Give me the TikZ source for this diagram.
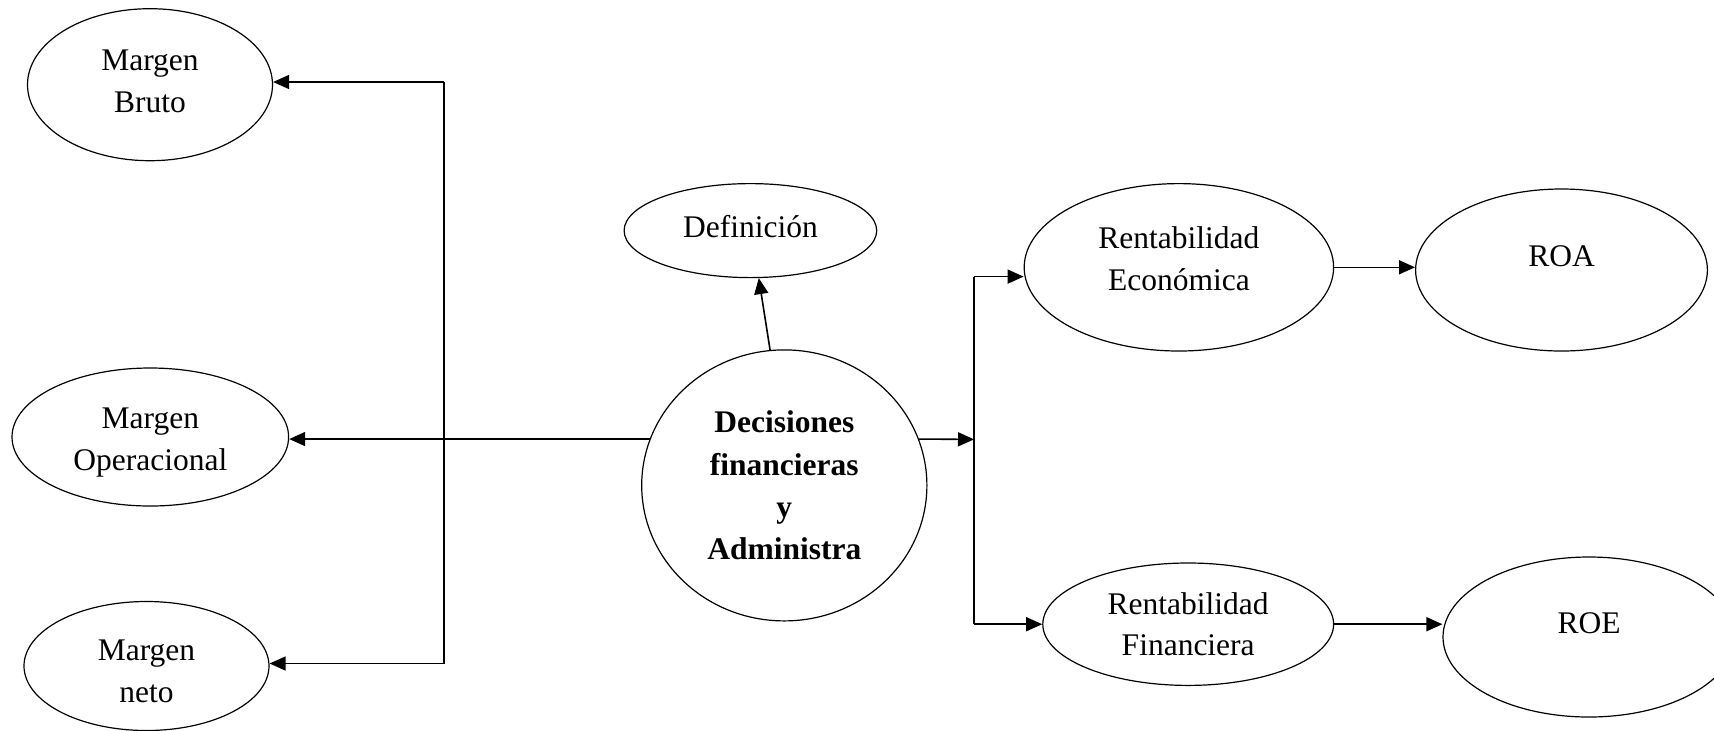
\documentclass[tikz,border=0pt]{standalone}
\usepackage{fontspec}
\setmainfont{Liberation Serif}
\usetikzlibrary{shapes.geometric,arrows.meta}
\tikzset{
  oval/.style={ellipse, draw, line width=0.6pt, inner sep=0pt, align=center,
    font=\fontsize{15.75pt}{20.8pt}\selectfont},
  arr/.style={line width=0.8pt, -{Triangle[length=8pt,width=7pt]}},
  link/.style={line width=0.8pt}
}
\begin{document}
\begin{tikzpicture}[x=0.5pt,y=-0.5pt]
\useasboundingbox (0,0) rectangle (1714,730);

% margin nodes on the left
\node[oval, minimum width=122.5pt, minimum height=76pt, text height=27.9pt] (bruto) at (150,84.7) {Margen\\Bruto};
\node[oval, minimum width=138.3pt, minimum height=69pt, text height=36.6pt] (op) at (150.3,437) {Margen\\Operacional};
\node[oval, minimum width=122.5pt, minimum height=64.5pt, text height=36.6pt] (neto) at (146.5,666) {Margen\\neto};

% central node
\node[oval, minimum width=142.6pt, minimum height=135.5pt,
  font=\fontsize{15.75pt}{21.1pt}\selectfont\bfseries] (dec) at (784.3,485.4)
  {Decisiones\\financieras\\y\\Administra};

\node[oval, minimum width=126.3pt, minimum height=47pt, text depth=4.4pt] (def) at (750.4,230.6) {Definición};

% profitability branch
\node[oval, minimum width=154.7pt, minimum height=83.7pt, text depth=8.7pt] (econ) at (1178.9,267.3) {Rentabilidad\\Económica};
\node[oval, minimum width=145.9pt, minimum height=81pt, text depth=14pt] (roa) at (1561.5,270) {ROA};
\node[oval, minimum width=145.4pt, minimum height=61.2pt] (fin) at (1188.2,624.2) {Rentabilidad\\Financiera};
\node[oval, minimum width=146pt, minimum height=80pt, text depth=14pt] (roe) at (1589,637) {ROE};

% left bus
\coordinate (lt) at (443.8,82);
\coordinate (lb) at (443.8,663.5);
\draw[link] (lt) -- (lb);
\draw[arr] (lt) -- (lt -| bruto.east);
\draw[arr] (lb) -- (lb -| neto.east);
\draw[arr] (dec.161) -- (dec.161 -| op.east);

% up to the definition
\draw[arr] (dec.96) -- (def.-80);

% right bus
\coordinate (jr) at (974,439.4);
\coordinate (jt) at (974,276.6);
\coordinate (jb) at (974,624.2);
\draw[arr] (dec.19) -- (jr);
\draw[link] (jt) -- (jb);
\draw[arr] (jt) -- (jt -| econ.west);
\draw[arr] (jb) -- (jb -| fin.west);

\draw[arr] (econ.east) -- (econ.east -| roa.west);
\draw[arr] (fin.east) -- (fin.east -| roe.west);
\end{tikzpicture}
\end{document}
